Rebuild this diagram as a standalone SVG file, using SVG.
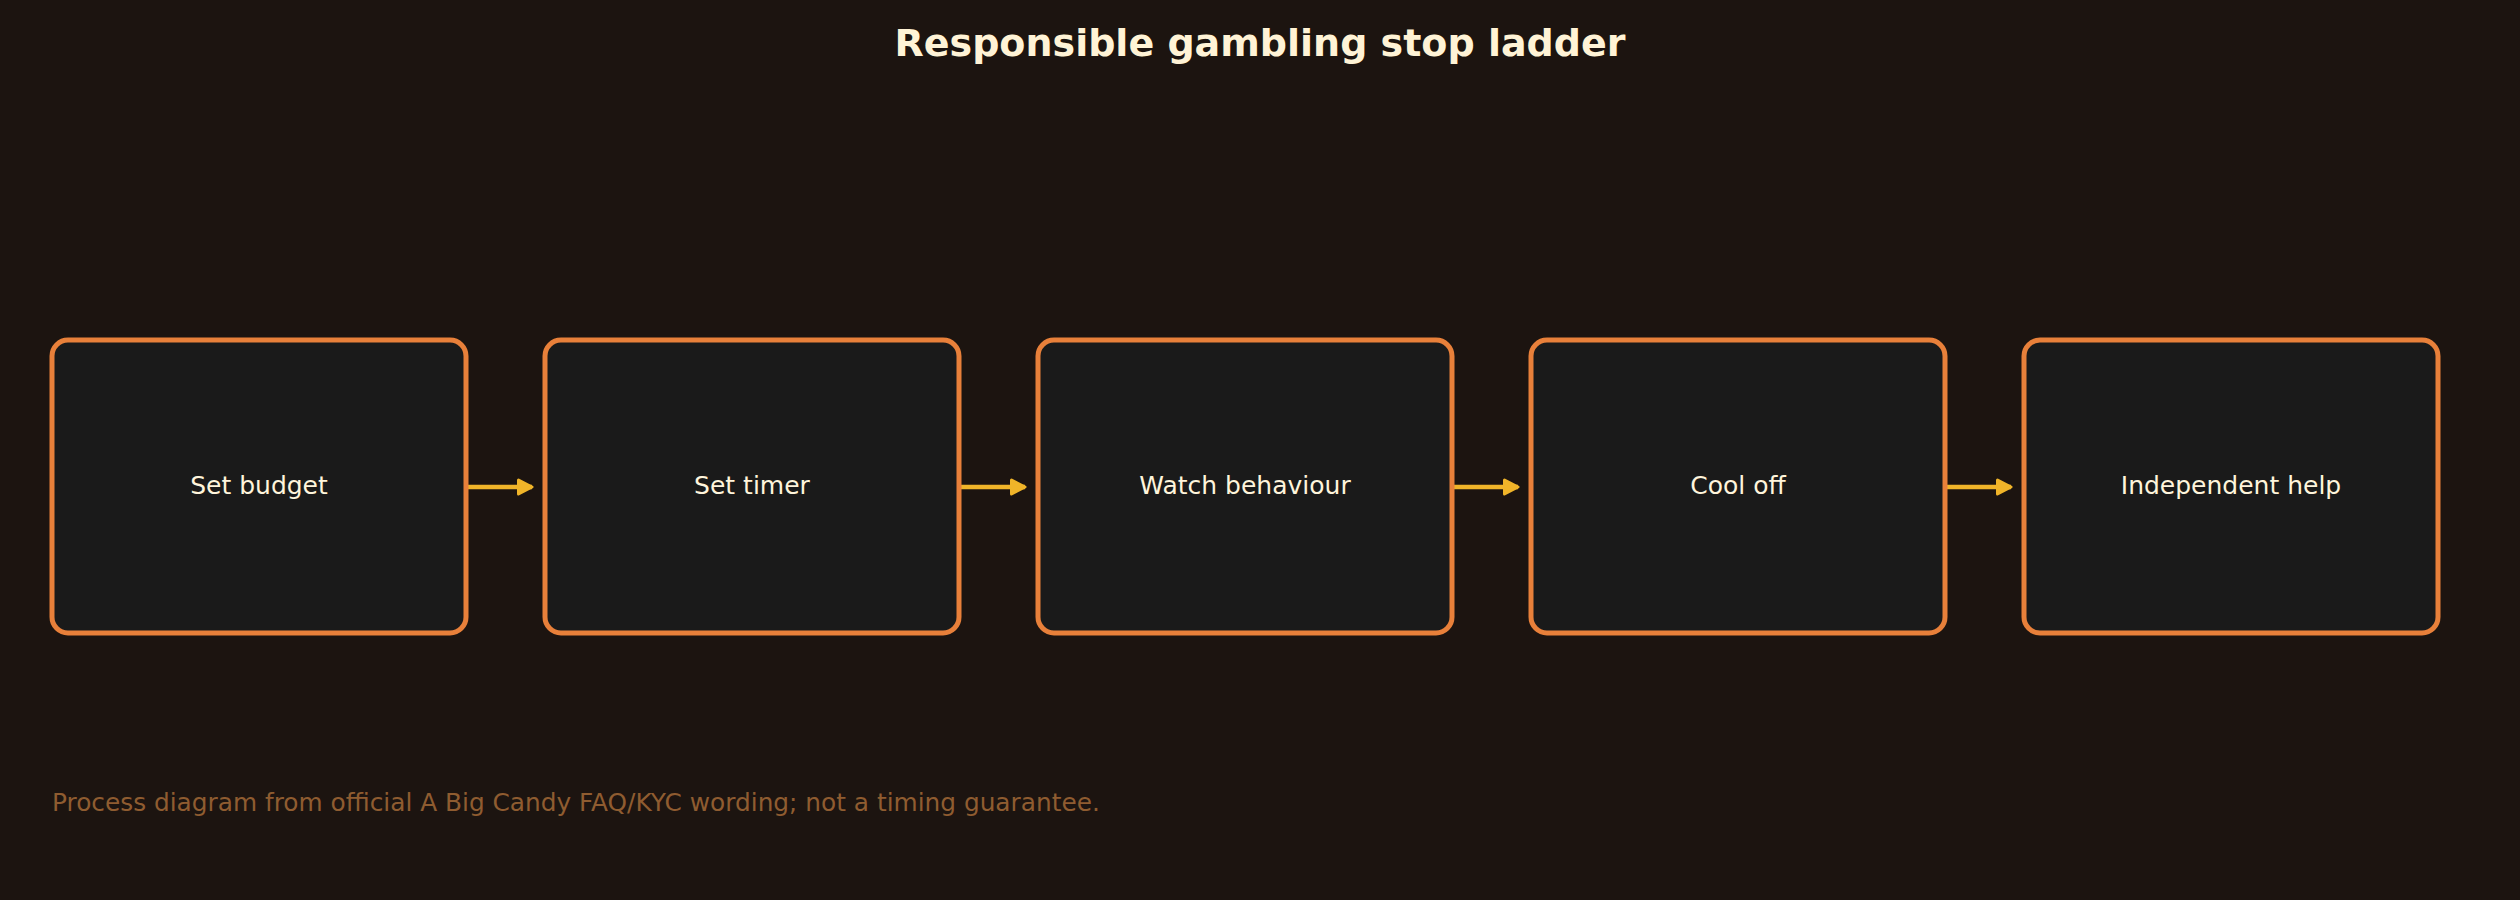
<svg xmlns="http://www.w3.org/2000/svg" width="2520" height="900" viewBox="0 0 2520 900">
  <style>
    .bg { fill: #1c1410; }
    .node rect { fill: #1a1a1a; stroke: #e8803a; stroke-width: 5; }
    .node text { font-family: "DejaVu Sans", sans-serif; font-size: 25px; fill: #fff5dc; text-anchor: middle; }
    .title { font-family: "DejaVu Sans", sans-serif; font-size: 38px; font-weight: bold; fill: #fff3d6; text-anchor: middle; }
    .footer { font-family: "DejaVu Sans", sans-serif; font-size: 24.8px; fill: #8f5c30; }
    .edge { stroke: #f0b429; stroke-width: 4.5; fill: none; }
  </style>
  <defs>
    <marker id="arrow" markerUnits="userSpaceOnUse" viewBox="0 0 18 18" markerWidth="18" markerHeight="18" refX="16" refY="9" orient="auto">
      <path d="M2.5,2 L16,9 L2.5,16 Z" fill="#f0b429" stroke="#f0b429" stroke-width="3" stroke-linejoin="round"/>
    </marker>
  </defs>
  <rect class="bg" x="0" y="0" width="2520" height="900"/>
  <text class="title" x="1260" y="56">Responsible gambling stop ladder</text>

  <g id="connectors">
    <line class="edge" x1="468" y1="487" x2="532" y2="487" marker-end="url(#arrow)"/>
    <line class="edge" x1="961" y1="487" x2="1025" y2="487" marker-end="url(#arrow)"/>
    <line class="edge" x1="1454" y1="487" x2="1518" y2="487" marker-end="url(#arrow)"/>
    <line class="edge" x1="1947" y1="487" x2="2011" y2="487" marker-end="url(#arrow)"/>
  </g>

  <g id="node-budget" class="node">
    <rect x="52" y="340" width="414" height="293" rx="16"/>
    <text x="259" y="494">Set budget</text>
  </g>
  <g id="node-timer" class="node">
    <rect x="545" y="340" width="414" height="293" rx="16"/>
    <text x="752" y="494">Set timer</text>
  </g>
  <g id="node-watch" class="node">
    <rect x="1038" y="340" width="414" height="293" rx="16"/>
    <text x="1245" y="494">Watch behaviour</text>
  </g>
  <g id="node-cool" class="node">
    <rect x="1531" y="340" width="414" height="293" rx="16"/>
    <text x="1738" y="494">Cool off</text>
  </g>
  <g id="node-help" class="node">
    <rect x="2024" y="340" width="414" height="293" rx="16"/>
    <text x="2231" y="494">Independent help</text>
  </g>

  <text class="footer" x="52" y="811">Process diagram from official A Big Candy FAQ/KYC wording; not a timing guarantee.</text>
</svg>
